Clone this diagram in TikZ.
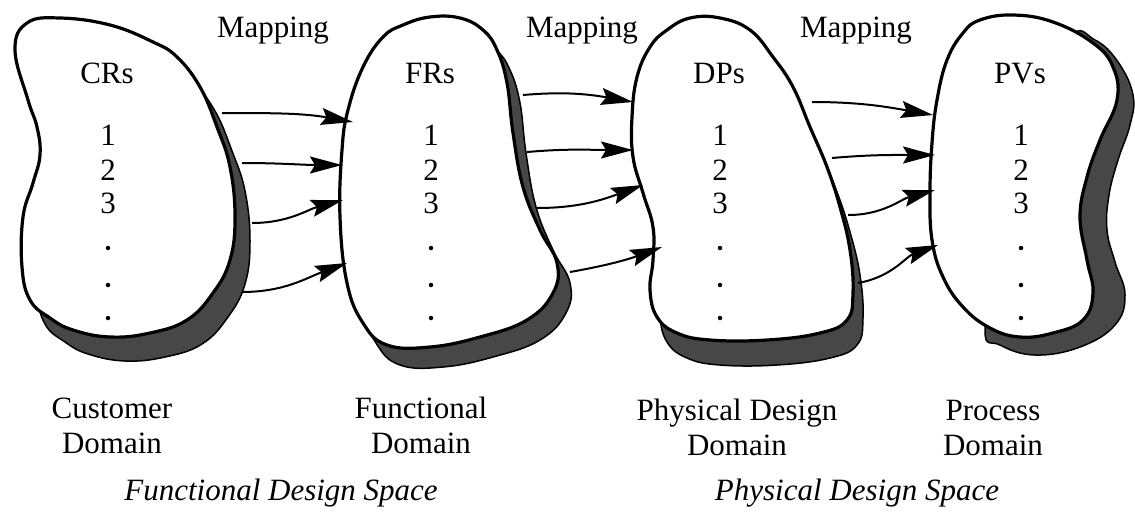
\documentclass[tikz,border=0pt]{standalone}
\usepackage{fontspec}
\setmainfont{Liberation Serif}
\usetikzlibrary{arrows.meta}
\begin{document}
\begin{tikzpicture}[x=1pt,y=-1pt,
  blobline/.style={draw=black,line width=3.2pt,fill=white},
  blobshadow/.style={fill=black!72,draw=black,line width=1.5pt},
  lbl/.style={font=\fontsize{31}{35}\selectfont,anchor=base,inner sep=0pt},
  dom/.style={font=\fontsize{31}{35}\selectfont,anchor=base,inner sep=0pt,align=center},
  space/.style={font=\fontsize{31}{35}\selectfont\itshape,anchor=base,inner sep=0pt},
  dotmark/.style={circle,fill=black,inner sep=0pt,minimum size=4.5pt},
  maparrow/.style={line width=2pt,-{Stealth[length=32pt,width=17pt,inset=5pt]}}]
\useasboundingbox (0,0) rectangle (1135,512);

\def\blobA{plot[smooth cycle,tension=0.7] coordinates {(15,50) (27,23) (60,18) (110,25) (153,42) (177,57) (200,87) (217,127) (230,167) (235,217) (230,260) (213,293) (187,320) (150,333) (110,337) (73,330) (50,318) (30,300) (22,267) (23,217) (33,183) (40,155) (37,127) (28,100)}}
\def\blobB{plot[smooth cycle,tension=0.7] coordinates {(383,37) (403,25) (430,17) (460,18) (483,30) (497,50) (507,83) (513,133) (523,187) (540,230) (557,263) (553,293) (527,320) (480,337) (430,347) (387,345) (363,323) (347,283) (340,217) (342,150) (348,110) (363,67)}}
\def\blobC{plot[smooth cycle,tension=0.7] coordinates {(667,30) (690,18) (720,18) (750,30) (773,57) (793,87) (810,127) (827,167) (840,207) (850,250) (853,293) (847,320) (820,333) (767,340) (710,340) (677,333) (657,317) (650,290) (653,260) (653,227) (643,193) (633,157) (632,117) (637,77) (650,47)}}
\def\blobD{plot[smooth cycle,tension=0.7] coordinates {(963,33) (980,20) (1013,15) (1053,22) (1093,43) (1113,67) (1117,100) (1100,140) (1087,177) (1080,217) (1087,260) (1093,293) (1083,320) (1053,333) (1020,337) (990,328) (963,307) (943,277) (932,240) (930,193) (932,143) (937,100) (947,60)}}

% shadows
\path[blobshadow,shift={(15,24)}] \blobA;
\path[blobshadow,shift={(13,20)}] \blobB;
\path[blobshadow,shift={(10,25)}] \blobC;
\path[blobshadow] plot[smooth cycle,tension=0.7] coordinates {(1070,38) (1095,40) (1118,62) (1133,95) (1130,125) (1118,160) (1109,195) (1107,230) (1115,262) (1125,295) (1115,325) (1080,347) (1035,355) (1000,345) (985,330) (1000,250) (1040,120)};

% blobs
\path[blobline] \blobA;
\path[blobline] \blobB;
\path[blobline] \blobC;
\path[blobline] \blobD;

% texts
\node[lbl] (map1) at (273,37) {Mapping};
\node[lbl] (map2) at (582,37) {Mapping};
\node[lbl] (map3) at (856,37) {Mapping};

\foreach \n/\t/\x in {a/CRs/107,b/FRs/430,c/DPs/719,d/PVs/1020}{
  \node[lbl] (\n-title) at (\x,83) {\t};
  \node[lbl] (\n-one) at (\x+1,145) {1};
  \node[lbl] (\n-two) at (\x+1,180) {2};
  \node[lbl] (\n-three) at (\x+1,213) {3};
  \node[dotmark] (\n-d1) at (\x+1,248) {};
  \node[dotmark] (\n-d2) at (\x+1,285) {};
  \node[dotmark] (\n-d3) at (\x+1,318) {};
}

\node[dom] (cust) at (112,453) {Customer\\Domain};
\node[dom] (func) at (421,453) {Functional\\Domain};
\node[dom] (phys) at (737,455) {Physical Design\\Domain};
\node[dom] (proc) at (993,455) {Process\\Domain};

\node[space] (fds) at (281,500) {Functional Design Space};
\node[space] (pds) at (857,500) {Physical Design Space};

% arrow end points
\coordinate (a1) at (222,113); \coordinate (b1in) at (353,122);
\coordinate (a2) at (242,163); \coordinate (b2in) at (342,165);
\coordinate (a3) at (252,223); \coordinate (b3in) at (343,200);
\coordinate (a4) at (242,292); \coordinate (b4in) at (347,263);
\coordinate (b1) at (523,95);  \coordinate (c1in) at (633,102);
\coordinate (b2) at (527,152); \coordinate (c2in) at (633,150);
\coordinate (b3) at (537,208); \coordinate (c3in) at (643,185);
\coordinate (b4) at (570,272); \coordinate (c4in) at (662,247);
\coordinate (c1) at (812,102); \coordinate (d1in) at (933,115);
\coordinate (c2) at (832,158); \coordinate (d2in) at (935,155);
\coordinate (c3) at (848,215); \coordinate (d3in) at (935,190);
\coordinate (c4) at (858,283); \coordinate (d4in) at (938,245);

\draw[maparrow] (a1) to[out=0,in=170] (b1in);
\draw[maparrow] (a2) to[out=0,in=180] (b2in);
\draw[maparrow] (a3) to[out=0,in=195] (b3in);
\draw[maparrow] (a4) to[out=0,in=200] (b4in);
\draw[maparrow] (b1) to[out=5,in=170] (c1in);
\draw[maparrow] (b2) to[out=5,in=180] (c2in);
\draw[maparrow] (b3) to[out=0,in=200] (c3in);
\draw[maparrow] (b4) to[out=10,in=200] (c4in);
\draw[maparrow] (c1) to[out=0,in=170] (d1in);
\draw[maparrow] (c2) to[out=5,in=180] (d2in);
\draw[maparrow] (c3) to[out=0,in=195] (d3in);
\draw[maparrow] (c4) to[out=10,in=200] (d4in);
\end{tikzpicture}
\end{document}
